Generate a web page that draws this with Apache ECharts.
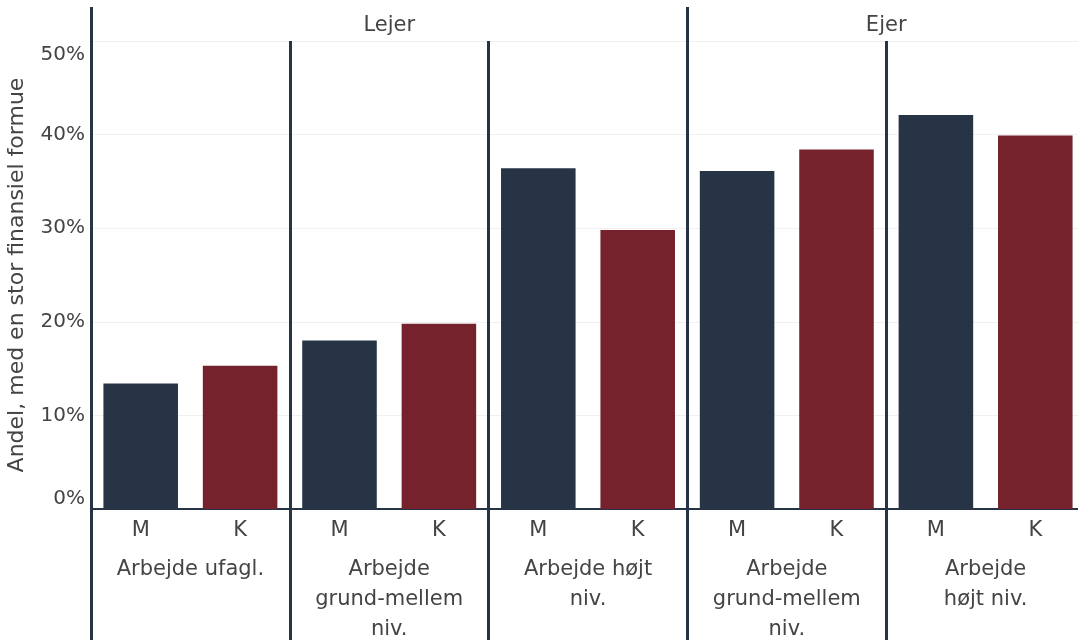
<!DOCTYPE html>
<html>
<head>
<meta charset="utf-8">
<script src="https://cdn.jsdelivr.net/npm/echarts@6/dist/echarts.min.js"></script>
<style>
  html, body { margin: 0; padding: 0; background: #fff; }
  #chart { width: 1078px; height: 640px; }
</style>
</head>
<body>
<div id="chart"></div>
<script>
// data
const groups = ['Arbejde ufagl.', 'Arbejde\ngrund-mellem\nniv.', 'Arbejde højt\nniv.', 'Arbejde\ngrund-mellem\nniv.', 'Arbejde\nhøjt niv.'];
const sexes = ['M', 'K'];
const owners = ['Lejer', 'Ejer'];
const ownerSpan = [3, 2];
const men = [13.4, 18.0, 36.4, 36.1, 42.1];
const women = [15.3, 19.8, 29.8, 38.4, 39.9];
const yTicks = [0, 10, 20, 30, 40, 50];

const navy = '#263446';
const red = '#75222d';
const ink = '#444';
const font = 'DejaVu Sans';

const cats = [];
const bars = [];
groups.forEach((g, i) => {
  cats.push(sexes[0], sexes[1]);
  bars.push({ value: men[i], itemStyle: { color: navy } });
  bars.push({ value: women[i], itemStyle: { color: red } });
});

// top header: 2 slots per panel plus one -> labels sit at span centres
const topSlots = [];
const topTicks = [];
let pos = 0;
for (let k = 0; k <= groups.length * 2; k++) topSlots.push('');
owners.forEach((o, j) => {
  topTicks.push(pos);
  topSlots[pos + ownerSpan[j]] = o;
  pos += ownerSpan[j] * 2;
});
topTicks.push(pos);

const chart = echarts.init(document.getElementById('chart'));
chart.setOption({
  animation: false,
  textStyle: { fontFamily: font },
  grid: { left: 91, top: 41, width: 994, height: 468, containLabel: false, outerBoundsMode: 'none' },
  xAxis: [{
    type: 'category',
    data: cats,
    axisLine: { show: true, lineStyle: { color: navy, width: 2 } },
    axisTick: { show: false },
    axisLabel: { interval: 0, margin: 11, fontSize: 21, color: ink, fontFamily: font }
  }, {
    type: 'category',
    position: 'bottom',
    data: groups,
    axisLine: { show: false },
    axisTick: { show: true, interval: 0, length: 131, lineStyle: { color: navy, width: 3 } },
    splitLine: { show: true, interval: 0, lineStyle: { color: navy, width: 3 } },
    axisLabel: { interval: 0, margin: 46, fontSize: 21, lineHeight: 30, color: ink, fontFamily: font, verticalAlign: 'top' }
  }, {
    type: 'category',
    position: 'top',
    boundaryGap: false,
    data: topSlots,
    axisLine: { show: false },
    axisTick: { show: true, length: 34, interval: (idx) => topTicks.includes(idx), lineStyle: { color: navy, width: 3 } },
    axisLabel: { interval: (idx, v) => v !== '', margin: 5, fontSize: 21, color: ink, fontFamily: font }
  }],
  yAxis: {
    type: 'value',
    min: yTicks[0],
    max: yTicks[yTicks.length - 1],
    interval: 10,
    name: 'Andel, med en stor finansiel formue',
    nameLocation: 'middle',
    nameGap: 63,
    nameTextStyle: { fontSize: 22, color: ink, fontFamily: font },
    axisLine: { show: true, lineStyle: { color: navy, width: 3 } },
    axisTick: { show: false },
    splitLine: { show: true, lineStyle: { color: '#f0f0f0', width: 1 } },
    axisLabel: {
      formatter: '{value}%',
      margin: 6,
      fontSize: 20,
      color: ink,
      fontFamily: font,
      verticalAlignMinLabel: 'bottom',
      verticalAlignMaxLabel: 'top',
      padding: [4, 0, 0, 0]
    }
  },
  series: [{
    type: 'bar',
    xAxisIndex: 0,
    data: bars,
    barCategoryGap: '25%'
  }]
});
</script>
</body>
</html>
